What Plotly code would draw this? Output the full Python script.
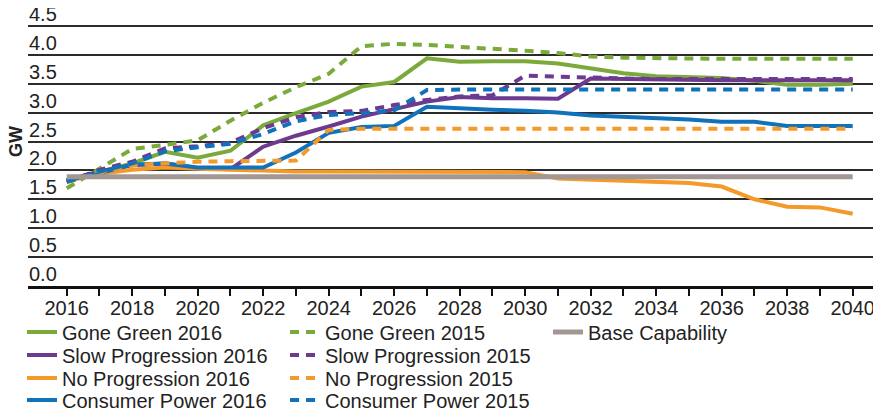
import plotly.graph_objects as go

years = list(range(2016, 2041))

gone_green_2016 = [1.83, 1.97, 2.12, 2.32, 2.22, 2.34, 2.78, 2.99, 3.19, 3.45, 3.53, 3.94, 3.88, 3.89, 3.89, 3.85, 3.77, 3.68, 3.63, 3.62, 3.60, 3.55, 3.48, 3.48, 3.50]
slow_progression_2016 = [1.83, 1.98, 2.09, 2.12, 2.04, 2.02, 2.41, 2.60, 2.76, 2.93, 3.06, 3.19, 3.27, 3.25, 3.25, 3.24, 3.59, 3.58, 3.57, 3.57, 3.56, 3.56, 3.56, 3.56, 3.56]
no_progression_2016 = [1.81, 1.94, 2.01, 2.05, 2.03, 2.01, 1.99, 1.98, 1.98, 1.98, 1.98, 1.97, 1.97, 1.97, 1.97, 1.86, 1.84, 1.83, 1.81, 1.78, 1.72, 1.50, 1.37, 1.36, 1.25]
consumer_power_2016 = [1.83, 1.95, 2.10, 2.12, 2.05, 2.05, 2.05, 2.31, 2.65, 2.75, 2.77, 3.10, 3.07, 3.05, 3.03, 3.00, 2.95, 2.93, 2.90, 2.88, 2.84, 2.84, 2.77, 2.77, 2.77]
gone_green_2015 = [1.69, 2.04, 2.37, 2.44, 2.52, 2.86, 3.17, 3.44, 3.67, 4.15, 4.19, 4.17, 4.14, 4.11, 4.07, 4.03, 3.97, 3.95, 3.94, 3.93, 3.93, 3.93, 3.93, 3.93, 3.93]
slow_progression_2015 = [1.80, 2.01, 2.15, 2.38, 2.42, 2.48, 2.73, 2.92, 3.01, 3.03, 3.13, 3.22, 3.28, 3.30, 3.64, 3.62, 3.60, 3.59, 3.58, 3.58, 3.58, 3.58, 3.58, 3.58, 3.58]
no_progression_2015 = [1.80, 1.96, 2.09, 2.12, 2.15, 2.16, 2.17, 2.17, 2.70, 2.72, 2.72, 2.72, 2.73, 2.73, 2.73, 2.72, 2.72, 2.72, 2.72, 2.72, 2.72, 2.72, 2.72, 2.72, 2.72]
consumer_power_2015 = [1.80, 1.98, 2.12, 2.33, 2.40, 2.46, 2.63, 2.85, 2.96, 2.99, 3.04, 3.39, 3.40, 3.40, 3.40, 3.40, 3.40, 3.40, 3.40, 3.40, 3.40, 3.40, 3.40, 3.40, 3.40]
base_capability = [1.89] * 25

y_ticks = [0.0, 0.5, 1.0, 1.5, 2.0, 2.5, 3.0, 3.5, 4.0, 4.5]
x_tick_labels = [str(y) if y % 2 == 0 else "" for y in years]

GREEN = "#7BAA3B"
PURPLE = "#6C3A8F"
ORANGE = "#F39A2A"
BLUE = "#0F72BA"
GRAY = "#A39793"
DASH = "9px,7px"

W, H = 881, 414
OFF = 8  # page body margin
FONT = "Liberation Sans"
TXT = "#222222"

series = [
    ("Gone Green 2016", gone_green_2016, GREEN, "solid", 4, 14, 333),
    ("Slow Progression 2016", slow_progression_2016, PURPLE, "solid", 4, 14, 356),
    ("No Progression 2016", no_progression_2016, ORANGE, "solid", 4, 14, 379),
    ("Consumer Power 2016", consumer_power_2016, BLUE, "solid", 4, 14, 401),
    ("Gone Green 2015", gone_green_2015, GREEN, DASH, 4, 277, 333),
    ("Slow Progression 2015", slow_progression_2015, PURPLE, DASH, 4, 277, 356),
    ("No Progression 2015", no_progression_2015, ORANGE, DASH, 4, 277, 379),
    ("Consumer Power 2015", consumer_power_2015, BLUE, DASH, 4, 277, 401),
    ("Base Capability", base_capability, GRAY, "solid", 5, 540, 333),
]

fig = go.Figure()
layout_legends = {}
for i, (name, vals, color, dash, width, lx, ly) in enumerate(series):
    key = "legend" if i == 0 else f"legend{i+1}"
    fig.add_trace(go.Scatter(
        x=years, y=vals, name=name, mode="lines",
        line=dict(color=color, width=width, dash=dash),
        legend=key, showlegend=True,
    ))
    layout_legends[key] = dict(
        xref="container", yref="container",
        x=lx / W, y=1 - (ly - 9) / H,
        xanchor="left", yanchor="middle",
        bgcolor="rgba(0,0,0,0)", borderwidth=0,
        font=dict(family=FONT, size=20, color=TXT),
        itemwidth=30,
    )

px_per_year = 32.75
plot_left_page = 28
plot_bottom_page = 286
px_per_unit = 57.8
x0 = 2016 - (66.7 - plot_left_page) / px_per_year
x1 = 2040 + (W + OFF - 852.7) / px_per_year
l_m = plot_left_page - OFF
t_m = 0
b_m = H - (plot_bottom_page - OFF)
plot_h = H - t_m - b_m
plot_w = W - l_m

fig.update_layout(
    width=W, height=H,
    margin=dict(l=l_m, r=0, t=t_m, b=b_m, autoexpand=False),
    paper_bgcolor="white", plot_bgcolor="white",
    font=dict(family=FONT, size=20, color=TXT),
    xaxis=dict(
        range=[x0, x1], tickmode="array", tickvals=years, ticktext=x_tick_labels,
        ticks="outside", ticklen=7, tickwidth=2, tickcolor="#111",
        showline=True, linecolor="#111", linewidth=3,
        showgrid=False, zeroline=False, automargin=False,
        ticklabelstandoff=-5,
        tickfont=dict(family=FONT, size=20, color=TXT),
    ),
    yaxis=dict(
        range=[0, plot_h / px_per_unit],
        anchor="free", position=0, side="right",
        tickmode="array", tickvals=y_ticks, tickformat=".1f",
        ticklabelposition="outside top", ticklabelshift=2,
        ticklabeloverflow="allow",
        showgrid=True, gridcolor="#2b2b2b", gridwidth=1.5,
        zeroline=False, showline=False, ticks="", automargin=False,
        tickfont=dict(family=FONT, size=20, color=TXT),
    ),
    annotations=[dict(
        text="<b>GW</b>", xref="paper", yref="paper",
        x=(16 - plot_left_page) / plot_w,
        y=(plot_bottom_page - 142) / plot_h,
        xanchor="center", yanchor="middle", textangle=-90, showarrow=False,
        font=dict(family=FONT, size=18, color=TXT),
    )],
    **layout_legends,
)

fig.write_html("out.html")
